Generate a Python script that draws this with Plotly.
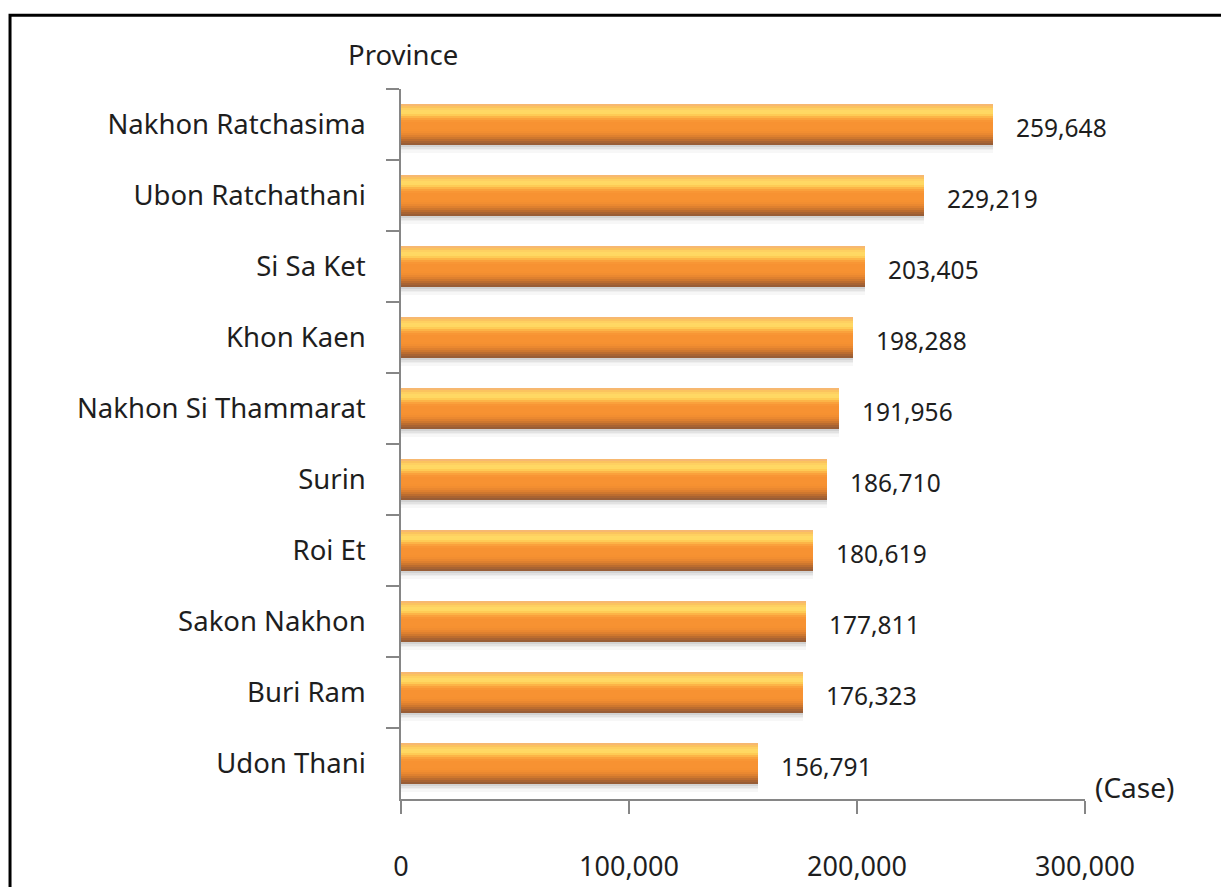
import plotly.graph_objects as go

provinces = ["Nakhon Ratchasima", "Ubon Ratchathani", "Si Sa Ket", "Khon Kaen",
             "Nakhon Si Thammarat", "Surin", "Roi Et", "Sakon Nakhon",
             "Buri Ram", "Udon Thani"]
cases = [259648, 229219, 203405, 198288, 191956, 186710, 180619, 177811, 176323, 156791]
x_ticks = [0, 100000, 200000, 300000]
x_tick_labels = ["0", "100,000", "200,000", "300,000"]

# top-to-bottom shades used to fake the glossy gradient on each bar
bar_shades = ["#F7B870", "#FBC35E", "#FED061", "#FFD864", "#FFD862", "#FECB55",
              "#FCB447", "#FAA13C", "#F89635", "#F79232", "#F79232", "#F79232",
              "#F69131", "#F28E31", "#EA8830", "#DE802F", "#CE772E", "#BB6C2F",
              "#A86332", "#985D36"]
shadow_shades = ["#D2D2D2", "#E2E2E2", "#EEEEEE", "#F7F7F7"]

FONT = "Noto Sans"
TEXT = "#1E1E1E"
AXIS = "#868686"

bar_w = 0.58
strip = bar_w / len(bar_shades)

fig = go.Figure()

for i, c in enumerate(shadow_shades):
    fig.add_trace(go.Bar(
        x=cases, y=provinces, orientation="h",
        offset=bar_w / 2 + i * 0.025, width=0.03,
        marker=dict(color=c, line=dict(width=0)),
        hoverinfo="skip", showlegend=False))

for i, c in enumerate(bar_shades):
    last = i == len(bar_shades) - 1
    fig.add_trace(go.Bar(
        x=cases, y=provinces, orientation="h",
        offset=-bar_w / 2 + i * strip, width=strip if last else strip * 1.6,
        marker=dict(color=c, line=dict(width=0)),
        hoverinfo="skip", showlegend=False))

for p, v in zip(provinces, cases):
    fig.add_annotation(x=v, y=p, text=f"{v:,}", showarrow=False,
                       xanchor="left", xshift=21, yshift=-3,
                       font=dict(family=FONT, size=24.5, color=TEXT))

fig.add_annotation(xref="paper", yref="paper", x=0.003, y=1.048, text="Province",
                   showarrow=False, xanchor="center", yanchor="middle",
                   font=dict(family=FONT, size=27.5, color=TEXT))
fig.add_annotation(xref="paper", yref="paper", x=1, y=0.017, text="(Case)",
                   showarrow=False, xanchor="left", yanchor="middle", xshift=8,
                   font=dict(family=FONT, size=28, color=TEXT))

# outer frame (cropped on the right and bottom in the original)
fig.add_shape(type="rect", xref="paper", yref="paper",
              x0=-0.5716, x1=1.25, y0=-0.2, y1=1.104,
              line=dict(color="black", width=3), layer="below")

fig.update_layout(
    width=1221, height=887,
    margin=dict(l=401, r=136, t=89, b=88, autoexpand=False),
    barmode="overlay", bargap=0,
    plot_bgcolor="white", paper_bgcolor="white",
    font=dict(family=FONT, color=TEXT),
    hovermode=False,
    xaxis=dict(range=[0, 300000], tickvals=x_ticks, ticktext=x_tick_labels,
               showgrid=False, zeroline=False, showline=True, linecolor=AXIS,
               linewidth=1.5, ticks="outside", ticklen=13, tickcolor=AXIS,
               tickwidth=1.5, ticklabelstandoff=30, automargin=False,
               tickfont=dict(family=FONT, size=27, color=TEXT)),
    yaxis=dict(type="category", categoryorder="array", categoryarray=provinces,
               autorange="reversed", tickson="boundaries", showgrid=False,
               zeroline=False, showline=True, linecolor=AXIS, linewidth=1.5,
               ticks="outside", ticklen=13, tickcolor=AXIS, tickwidth=1.5,
               ticklabelstandoff=28, automargin=False,
               tickfont=dict(family=FONT, size=27.5, color=TEXT)),
)

fig.write_html("out.html", config={"displayModeBar": False},
               post_script="document.body.style.margin='0';")
